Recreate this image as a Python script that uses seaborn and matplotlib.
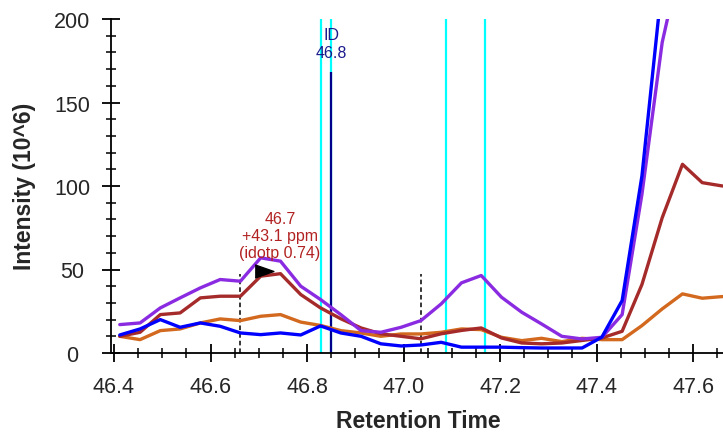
import numpy as np
import matplotlib
matplotlib.use("Agg")
import matplotlib.pyplot as plt
from matplotlib.ticker import MultipleLocator
import seaborn as sns

# retention times of the scans (min)
times = [46.412, 46.454, 46.496, 46.537, 46.579, 46.620, 46.662, 46.704, 46.745, 46.787,
         46.828, 46.870, 46.912, 46.953, 46.995, 47.036, 47.078, 47.120, 47.161, 47.203,
         47.245, 47.286, 47.328, 47.370, 47.411, 47.453, 47.494, 47.536, 47.578, 47.619,
         47.661]

# intensities (10^6) per trace
orange = [10, 8, 13.4, 14.4, 18, 20.4, 19.4, 22, 23, 18.5,
          16.5, 13.4, 12, 10, 11.4, 11.4, 12.4, 14.4, 14, 9.4,
          7.4, 8.8, 6.8, 8.8, 8, 8, 16.4, 26.4, 35.4, 32.8,
          33.8]
brown = [10, 12.4, 23, 24, 33, 34, 34, 46, 47.5, 35,
         27, 20.5, 15, 11.5, 10, 8.5, 11.5, 13.5, 15, 9,
         6, 5.5, 6, 7.5, 9, 13, 41, 81, 113, 102,
         100]
purple = [17, 18, 27, 33, 39, 44, 43, 57, 55, 40,
          32, 23, 13.4, 12.4, 15.4, 19.4, 29.4, 42, 46.4, 33.4,
          24.4, 17.4, 10, 8.4, 9.4, 23, 95, 186, 240, 290,
          320]
blue = [10.8, 14.4, 20, 15.4, 18, 16, 12, 11, 12, 10.8,
        16.2, 12, 10, 5.5, 4.2, 4.8, 6.4, 3.5, 3.5, 3.5,
        3.2, 3, 3, 3, 9.5, 31.4, 106, 222, 300, 330,
        340]

# markers on the chart
cyan_lines = [46.829, 47.089, 47.169]
cyan_line_id = 46.85
id_time = 46.85
id_top = 168
dashed_lines = [46.662, 47.036]
dashed_top = 47.5
peak_time = 46.711
peak_value = 49.2

sns.set_style("white")
plt.rcParams["font.family"] = ["Liberation Sans", "DejaVu Sans"]

fig = plt.figure(figsize=(7.23, 4.35), dpi=100)
ax = fig.add_axes([111 / 723, 1 - 354 / 435, (723 - 111) / 723, (354 - 20) / 435])

# reference lines
for t in cyan_lines + [cyan_line_id]:
    ax.axvline(t, color="#00FFFF", lw=1.6, zorder=1)
ax.vlines(id_time, 0, id_top, color="#00008B", lw=1.6, zorder=2)
ax.vlines(dashed_lines, 0, dashed_top, color="black", lw=1.1,
          linestyles=(0, (3, 2)), zorder=2)

# traces
for vals, col in [(orange, "#D2691E"), (brown, "#A52A2A"),
                  (purple, "#8A2BE2"), (blue, "#0000FF")]:
    sns.lineplot(x=times, y=vals, color=col, lw=2.4, ax=ax, zorder=3)

# peak marker and labels
tri = [(-1, -0.7), (1, 0), (-1, 0.7)]
ax.plot([peak_time], [peak_value], marker=tri, markersize=13.5, color="black",
        zorder=5, clip_on=False)
ax.text(46.744, 70.4, "46.7\n+43.1 ppm\n(idotp 0.74)", color="#B22222",
        fontsize=11.5, ha="center", va="center", multialignment="center", zorder=6)
ax.text(id_time, 185.4, "ID\n46.8", color="#1A1A8C", fontsize=11.5,
        ha="center", va="center", multialignment="center", zorder=6)

ax.set_xlim(46.3938, 47.662)
ax.set_ylim(0, 200)
ax.xaxis.set_major_locator(MultipleLocator(0.2))
ax.xaxis.set_minor_locator(MultipleLocator(0.05))
ax.yaxis.set_major_locator(MultipleLocator(50))
ax.yaxis.set_minor_locator(MultipleLocator(10))
ax.set_xticks(ax.get_xticks())
ax.set_xticklabels([f"{v:.1f}" for v in ax.get_xticks()])
ax.set_xlim(46.3938, 47.662)

ax.tick_params(which="major", direction="inout", length=13, width=1.3,
               color="black", labelsize=15.5)
ax.tick_params(which="minor", direction="inout", length=7, width=1.1, color="black")
ax.tick_params(axis="x", which="major", pad=10)
ax.tick_params(axis="y", which="major", pad=21.5)
for lab in ax.get_yticklabels():
    lab.set_horizontalalignment("center")
ax.tick_params(bottom=True, left=True, which="both")

for side in ["top", "right"]:
    ax.spines[side].set_visible(False)
for side in ["left", "bottom"]:
    ax.spines[side].set_color("black")
    ax.spines[side].set_linewidth(1.3)

ax.set_xlabel("Retention Time", fontsize=16.5, fontweight="bold")
ax.set_ylabel("Intensity (10^6)", fontsize=16.5, fontweight="bold")
ax.xaxis.set_label_coords(0.5025, -0.168)
ax.yaxis.set_label_coords(-0.1225, 0.503)

fig.savefig("out.png", dpi=100)
